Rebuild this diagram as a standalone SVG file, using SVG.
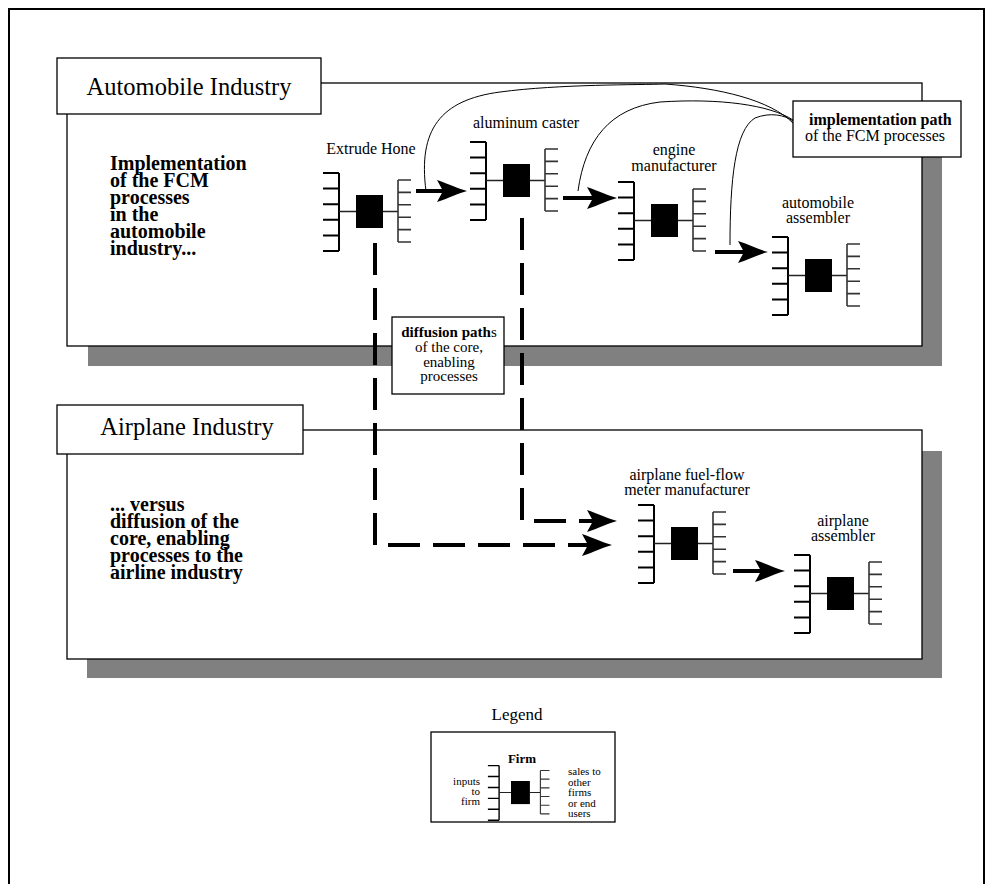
<svg xmlns="http://www.w3.org/2000/svg" width="994" height="884" viewBox="0 0 994 884">
<style>
text{font-family:"Liberation Serif","Times New Roman",serif;fill:#000}
.t24{font-size:24.5px}
.b20{font-size:20px;font-weight:bold}
.lab{font-size:16px;text-anchor:middle}
.box{fill:#fff;stroke:#000;stroke-width:1.3}
.sh{fill:#808080}
.comb{stroke:#000;stroke-width:2;fill:none}
.combr{stroke:#333;stroke-width:1.6;fill:none}
.conn{stroke:#222;stroke-width:1.5;fill:none}
.arrow{stroke:#000;stroke-width:4;fill:none}
.dash{stroke:#000;stroke-width:4;fill:none;stroke-dasharray:32 13}
.thin{stroke:#000;stroke-width:1;fill:none}
.frame{stroke:#000;stroke-width:2;fill:none}
</style>
<defs>
<marker id="ah" markerUnits="userSpaceOnUse" markerWidth="40" markerHeight="30" viewBox="-12 -15 40 30" refX="0" refY="0" orient="auto" overflow="visible">
<path d="M20,0 C12,-2 2,-7 -10,-11 L-4,0 L-10,11 C2,7 12,2 20,0 Z" fill="#000"/>
</marker>
<g id="firm">
<path class="comb" d="M-17,-22 V56 M-33,-22 H-17 M-33,-6.4 H-17 M-33,9.2 H-17 M-33,24.8 H-17 M-33,40.4 H-17 M-33,56 H-17"/>
<path class="conn" d="M-17,16.5 H0 M27,16.5 H42"/>
<rect x="0" y="0" width="27" height="33" fill="#000"/>
<path class="combr" d="M42,-15 V47 M42,-15 H55 M42,-2.6 H55 M42,9.8 H55 M42,22.2 H55 M42,34.6 H55 M42,47 H55"/>
</g>
</defs>

<path class="frame" d="M9,884 V9 H984 V884"/>

<g id="automobile-industry">
<rect class="sh" x="88" y="104" width="854" height="262"/>
<rect class="box" x="67" y="83" width="855" height="263"/>
<rect class="box" x="57" y="58" width="264" height="56"/>
<text class="t24" x="189" y="95" text-anchor="middle">Automobile Industry</text>
<text class="b20" x="110"><tspan x="110" y="170">Implementation</tspan><tspan x="110" y="187">of the FCM</tspan><tspan x="110" y="204">processes</tspan><tspan x="110" y="221">in the</tspan><tspan x="110" y="238">automobile</tspan><tspan x="110" y="255">industry...</tspan></text>
</g>

<g id="airplane-industry">
<rect class="sh" x="87" y="451" width="855" height="227"/>
<rect class="box" x="67" y="430" width="855" height="229"/>
<rect class="box" x="57" y="405" width="246" height="49"/>
<text class="t24" x="187" y="435" text-anchor="middle">Airplane Industry</text>
<text class="b20" x="110"><tspan x="110" y="511">... versus</tspan><tspan x="110" y="528">diffusion of the</tspan><tspan x="110" y="545">core, enabling</tspan><tspan x="110" y="562">processes to the</tspan><tspan x="110" y="579">airline industry</tspan></text>
</g>

<g id="connectors">
<path class="thin" d="M426,191 C418,130 440,100 500,92 S640,85 665,84"/>
<path class="thin" d="M665,84 C720,88 770,100 793,123"/>
<path class="thin" d="M578,191 C585,140 610,108 660,102 C720,98 770,105 793,120"/>
<path class="thin" d="M730,245 C730,180 735,130 755,118 C770,112 785,115 793,121"/>
<path class="arrow" d="M416,191 H447" marker-end="url(#ah)"/>
<path class="arrow" d="M563,198 H597" marker-end="url(#ah)"/>
<path class="arrow" d="M715,252 H748" marker-end="url(#ah)"/>
<path class="arrow" d="M733,571 H765" marker-end="url(#ah)"/>
<path class="dash" d="M375,243 V545 H592" marker-end="url(#ah)"/>
<path class="dash" d="M522,218 V521 H597" marker-end="url(#ah)"/>
</g>

<g id="extrude-hone">
<use href="#firm" x="356" y="195"/>
<text class="lab" x="371" y="154">Extrude Hone</text>
</g>
<g id="aluminum-caster">
<use href="#firm" x="503" y="164"/>
<text class="lab" x="526" y="128">aluminum caster</text>
</g>
<g id="engine-manufacturer">
<use href="#firm" x="651" y="204"/>
<text class="lab" x="674" y="155">engine</text>
<text class="lab" x="674" y="171">manufacturer</text>
</g>
<g id="automobile-assembler">
<use href="#firm" x="805" y="259"/>
<text class="lab" x="818" y="208">automobile</text>
<text class="lab" x="818" y="223">assembler</text>
</g>
<g id="airplane-fuel-flow-meter-manufacturer">
<use href="#firm" x="671" y="527"/>
<text class="lab" x="687" y="480">airplane fuel-flow</text>
<text class="lab" x="687" y="495">meter manufacturer</text>
</g>
<g id="airplane-assembler">
<use href="#firm" x="827" y="577"/>
<text class="lab" x="843" y="526">airplane</text>
<text class="lab" x="843" y="541">assembler</text>
</g>

<g id="implementation-path-label">
<rect class="box" x="793" y="101" width="168" height="56"/>
<text x="809" y="125" style="font-size:16px;font-weight:bold">implementation path</text>
<text x="805" y="141" style="font-size:16px">of the FCM processes</text>
</g>

<g id="diffusion-paths-label">
<rect class="box" x="392" y="317" width="112" height="77"/>
<text style="font-size:15px" text-anchor="middle"><tspan x="449" y="337"><tspan font-weight="bold">diffusion path</tspan>s</tspan><tspan x="449" y="352">of the core,</tspan><tspan x="449" y="366.5">enabling</tspan><tspan x="449" y="381">processes</tspan></text>
</g>

<g id="legend">
<text x="517" y="720" text-anchor="middle" style="font-size:17px">Legend</text>
<rect class="box" x="431" y="732" width="184" height="90"/>
<text x="522" y="763" text-anchor="middle" style="font-size:13px;font-weight:bold">Firm</text>
<use href="#firm" transform="translate(511,781) scale(0.7)"/>
<text style="font-size:11px" text-anchor="end"><tspan x="480" y="785">inputs</tspan><tspan x="480" y="795">to</tspan><tspan x="480" y="805">firm</tspan></text>
<text style="font-size:11px"><tspan x="568" y="775">sales to</tspan><tspan x="568" y="785.5">other</tspan><tspan x="568" y="796">firms</tspan><tspan x="568" y="806.5">or end</tspan><tspan x="568" y="817">users</tspan></text>
</g>
</svg>
